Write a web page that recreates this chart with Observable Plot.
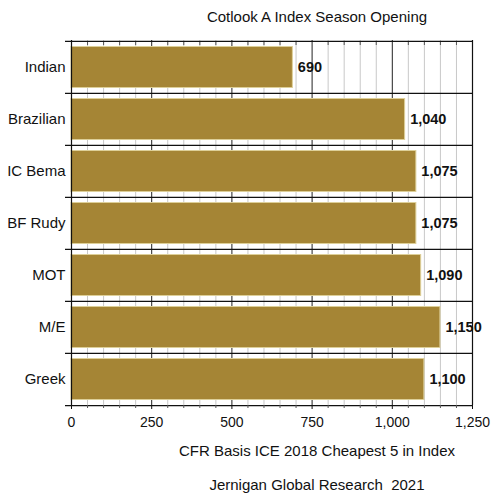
<!DOCTYPE html>
<html>
<head>
<meta charset="utf-8">
<script src="https://cdn.jsdelivr.net/npm/d3@7"></script>
<script src="https://cdn.jsdelivr.net/npm/@observablehq/plot@0.6"></script>
<style>
  body { margin: 0; background: #fff; font-family: "Liberation Sans", Arial, sans-serif; color: #111; }
  .line { width: 492px; box-sizing: border-box; padding-left: 142px; text-align: center; font-size: 15px; white-space: nowrap; }
  #title { height: 30px; line-height: 34px; }
  #xlabel { height: 22px; line-height: 22px; }
  #caption { height: 34px; padding-top: 12px; line-height: 22px; }
</style>
</head>
<body>
<div id="title" class="line">Cotlook A Index Season Opening</div>
<div id="chart"></div>
<div id="xlabel" class="line">CFR Basis ICE 2018 Cheapest 5 in Index</div>
<div id="caption" class="line">Jernigan Global Research&nbsp; 2021</div>
<script>
// Opening quotes by origin, top to bottom
const categories = ["Indian", "Brazilian", "IC Bema", "BF Rudy", "MOT", "M/E", "Greek"];
const values = [690, 1040, 1075, 1075, 1090, 1150, 1100];
const majorTicks = [0, 250, 500, 750, 1000, 1250];
const minorTicks = d3.range(0, 1251, 50).filter(v => v % 250 !== 0);

const data = categories.map((category, i) => ({category, value: values[i]}));
const fmt = d3.format(",");

const width = 492, height = 410;
const marginTop = 10, marginBottom = 35, marginLeft = 71, marginRight = 20;
const step = (height - marginTop - marginBottom) / categories.length;

const plot = Plot.plot({
  width, height, marginTop, marginBottom, marginLeft, marginRight,
  style: {fontFamily: "'Liberation Sans', Arial, sans-serif", fontSize: "15px", color: "#111", background: "#fff"},
  x: {domain: [0, 1250], label: null},
  y: {domain: categories, padding: 0, label: null},
  marks: [
    // light minor grid every 50
    Plot.ruleX(minorTicks, {stroke: "#c8c8c8", strokeWidth: 1}),
    // dark major grid every 250
    Plot.ruleX(majorTicks, {stroke: "#222", strokeWidth: 1}),
    // small inward ticks along the top edge
    Plot.axisX(minorTicks, {anchor: "top", tickSize: -4, tickFormat: () => "", stroke: "#555", label: null}),
    // category separators, extending left past the axis
    Plot.ruleY(categories, {y: d => d, dy: -step / 2, insetLeft: -6, stroke: "#111", strokeWidth: 1.2}),
    Plot.ruleY([categories[categories.length - 1]], {y: d => d, dy: step / 2, insetLeft: -6, stroke: "#111", strokeWidth: 1.2}),
    Plot.barX(data, {x: "value", y: "category", fill: "#a58535", stroke: "#ddcf98", strokeWidth: 1, insetTop: 5.5, insetBottom: 5.5}),
    Plot.text(data, {x: "value", y: "category", text: d => fmt(d.value), textAnchor: "start", dx: 5, fontWeight: "bold", fontSize: 14.5, fill: "#111"}),
    Plot.ruleX([0], {stroke: "#111", strokeWidth: 1.2}),
    Plot.ruleX([1250], {stroke: "#111", strokeWidth: 1.2}),
    Plot.axisX(majorTicks, {anchor: "bottom", tickSize: 4, tickPadding: 8, tickFormat: fmt, stroke: "#111", fontSize: 14, label: null}),
    Plot.axisX(minorTicks, {anchor: "bottom", tickSize: 3, tickFormat: () => "", stroke: "#555", label: null}),
    Plot.axisY({anchor: "left", tickSize: 0, tickPadding: 6, label: null, fontSize: 15})
  ]
});
document.getElementById("chart").appendChild(plot);
</script>
</body>
</html>
